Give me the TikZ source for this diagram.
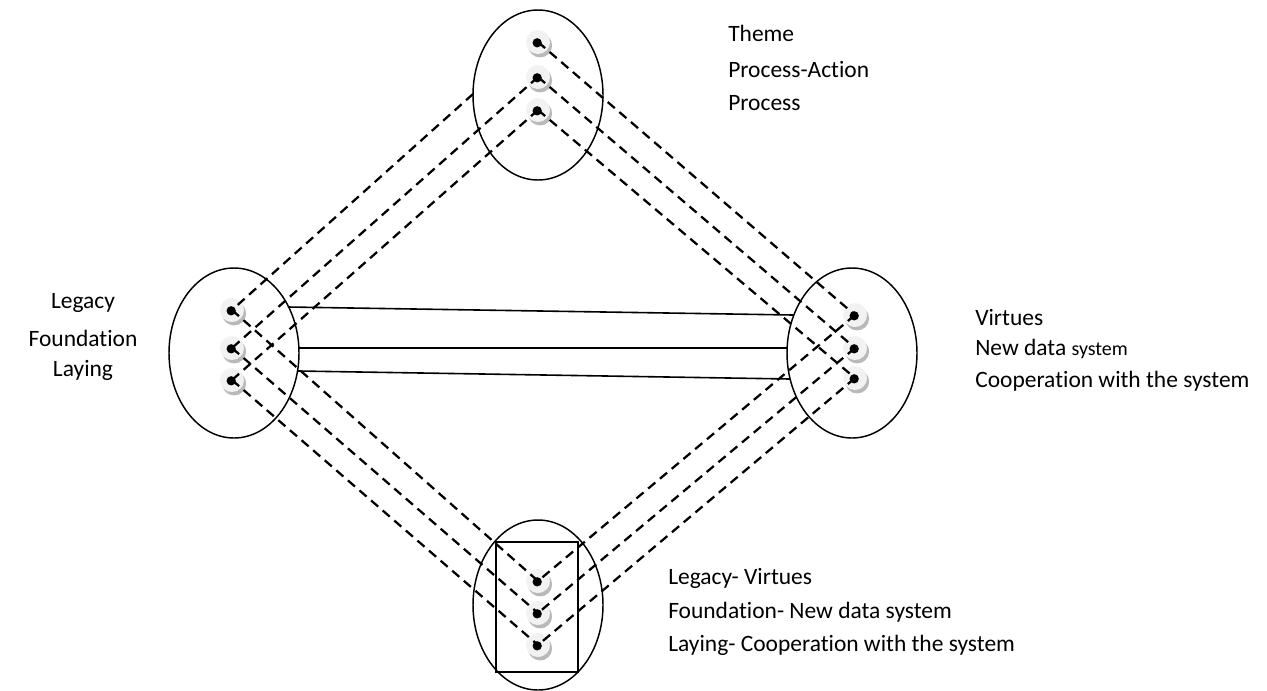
\documentclass[tikz,border=0pt]{standalone}
\usepackage{fontspec}
\setmainfont{Carlito}[Ligatures=NoCommon]
\usetikzlibrary{shapes.geometric,shadows}
\begin{document}
\begin{tikzpicture}[x=0.75pt,y=-0.75pt,
  oval/.style={draw, ellipse, line width=1.1pt, minimum width=97.5pt, minimum height=127.5pt, inner sep=0pt},
  pin/.style={circle, fill=gray!10, minimum size=18pt, inner sep=0pt,
    drop shadow={shadow xshift=1.6pt, shadow yshift=-2.6pt, fill=gray!55, opacity=1},
    path picture={\fill[black] ([xshift=-0.6pt,yshift=-0.6pt]path picture bounding box.center) circle (3.5pt);}},
  dline/.style={line width=1.7pt, dash pattern=on 7pt off 4.5pt},
  sline/.style={line width=1.2pt},
  lbl/.style={font=\fontsize{17.6}{20}\selectfont, inner sep=0pt}
]
\useasboundingbox (0,0) rectangle (1267,690);

% ovals
\node[oval] (top) at (538,95) {};
\node[oval] (left) at (234,353) {};
\node[oval] (right) at (852,353) {};
\node[oval] (bot) at (538,605) {};
\draw[sline] (496,542) rectangle (578,672);

% dots
\node[pin] (t1) at (538,42) {};
\node[pin] (t2) at (538,77) {};
\node[pin] (t3) at (538,110) {};
\node[pin] (l1) at (232,310) {};
\node[pin] (l2) at (232,348) {};
\node[pin] (l3) at (232,380) {};
\node[pin] (r1) at (855,315) {};
\node[pin] (r2) at (855,348) {};
\node[pin] (r3) at (855,378) {};
\node[pin] (b1) at (538,581) {};
\node[pin] (b2) at (538,613) {};
\node[pin] (b3) at (538,645) {};

% free ends
\coordinate (ta) at (473,94);
\coordinate (s1a) at (288,307);
\coordinate (s1b) at (793,315);
\coordinate (s2a) at (298,348);
\coordinate (s2b) at (787,348);
\coordinate (s3a) at (298,371);
\coordinate (s3b) at (790,379);

% top -> left
\draw[dline] (ta) -- (l1.center);
\draw[dline] (t2.center) -- (l2.center);
\draw[dline] (t3.center) -- (l3.center);
% top -> right
\draw[dline] (t1.center) -- (r1.center);
\draw[dline] (t2.center) -- (r2.center);
\draw[dline] (t3.center) -- (r3.center);
% left -> bottom
\draw[dline] (l1.center) -- (b1.center);
\draw[dline] (l2.center) -- (b2.center);
\draw[dline] (l3.center) -- (b3.center);
% right -> bottom
\draw[dline] (r1.center) -- (b1.center);
\draw[dline] (r2.center) -- (b2.center);
\draw[dline] (r3.center) -- (b3.center);
% left -> right solid
\draw[sline] (s1a) -- (s1b);
\draw[sline] (s2a) -- (s2b);
\draw[sline] (s3a) -- (s3b);

% labels
\node[lbl, anchor=west] (tx1) at (728,33) {Theme};
\node[lbl, anchor=west] (tx2) at (728,70) {Process-Action};
\node[lbl, anchor=west] (tx3) at (728,103) {Process};

\node[lbl] (lx1) at (83,303) {Legacy};
\node[lbl] (lx2) at (83,338) {Foundation};
\node[lbl] (lx3) at (83,370) {Laying};

\node[lbl, anchor=west] (rx1) at (975,318) {Virtues};
\node[lbl, anchor=west] (rx2) at (975,349) {New data {\fontsize{15}{18}\selectfont system}};
\node[lbl, anchor=west] (rx3) at (975,381) {Cooperation with the system};

\node[lbl, anchor=west] (bx1) at (668,578) {Legacy- Virtues};
\node[lbl, anchor=west] (bx2) at (668,612) {Foundation- New data system};
\node[lbl, anchor=west] (bx3) at (668,645) {Laying- Cooperation with the system};
\end{tikzpicture}
\end{document}
